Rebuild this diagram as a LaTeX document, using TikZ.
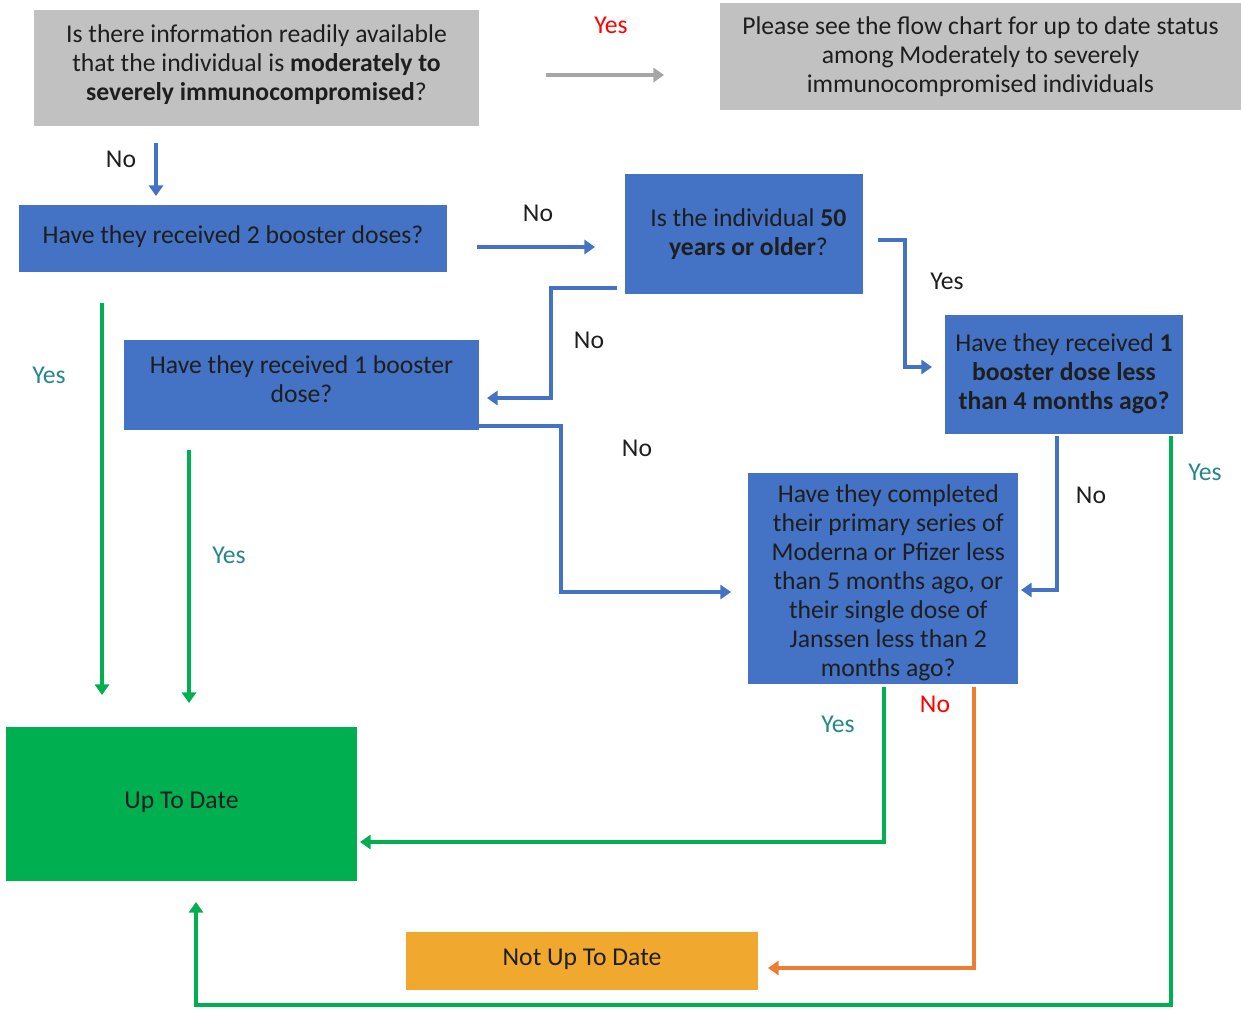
\documentclass[tikz,border=0pt]{standalone}
\usepackage{fontspec}
\setmainfont{Carlito}
\usetikzlibrary{arrows.meta}
\definecolor{txt}{RGB}{30,30,30}
\definecolor{grayfill}{RGB}{194,193,194}
\definecolor{grayline}{RGB}{166,166,166}
\definecolor{myblue}{RGB}{68,114,196}
\definecolor{mygreen}{RGB}{0,176,80}
\definecolor{orfill}{RGB}{240,168,46}
\definecolor{orline}{RGB}{237,125,49}
\definecolor{teal}{RGB}{35,135,140}
\definecolor{myred}{RGB}{255,0,0}
% text block: raise by #1, left padding #2, lines #3
\newcommand\boxtext[3]{\raisebox{#1}[\height][\depth]{\begin{tabular}{@{\hspace{#2}}c@{}}#3\end{tabular}}}
\begin{document}
\begin{tikzpicture}[x=0.02cm,y=-0.02cm,
  font=\fontsize{14.6}{16.5}\selectfont,
  box/.style={draw=none, inner sep=0pt, text=txt},
  graybox/.style={box, fill=grayfill},
  bluebox/.style={box, fill=myblue},
  lbl/.style={inner sep=0pt, text=txt},
  arr/.style={line width=1.8pt, -{Triangle[length=6pt,width=8pt]}},
  barr/.style={arr, draw=myblue},
  garr/.style={arr, draw=mygreen},
  oarr/.style={arr, draw=orline},
  grarr/.style={arr, draw=grayline}]
\useasboundingbox (0,0) rectangle (1241,1009);

% boxes
\node[graybox, minimum width=8.9cm, minimum height=2.32cm] (q0) at (256.5,68)
  {\boxtext{1.2pt}{0pt}{Is there information readily available\\that the individual is \textbf{moderately to}\\\textbf{severely immunocompromised}?}};
\node[graybox, minimum width=10.42cm, minimum height=2.14cm] (info) at (980.5,56.5)
  {\boxtext{-0.7pt}{0pt}{Please see the flow chart for up to date status\\among Moderately to severely\\immunocompromised individuals}};
\node[bluebox, minimum width=8.56cm, minimum height=1.34cm] (q2b) at (233,238.5)
  {\boxtext{0.4pt}{0pt}{Have they received 2 booster doses?}};
\node[bluebox, minimum width=4.76cm, minimum height=2.4cm] (q50) at (744,234)
  {\boxtext{-0.7pt}{5pt}{Is the individual \textbf{50}\\\textbf{years or older}?}};
\node[bluebox, minimum width=7.1cm, minimum height=1.8cm] (q1b) at (301.5,385)
  {\boxtext{1.5pt}{0pt}{Have they received 1 booster\\dose?}};
\node[bluebox, minimum width=4.76cm, minimum height=2.38cm] (q4m) at (1064,374.5)
  {\boxtext{-0.2pt}{0pt}{Have they received \textbf{1}\\\textbf{booster dose less}\\\textbf{than 4 months ago?}}};
\node[bluebox, minimum width=5.4cm, minimum height=4.22cm] (qps) at (883,578.5)
  {\boxtext{-3pt}{6pt}{Have they completed\\their primary series of\\Moderna or Pfizer less\\than 5 months ago, or\\their single dose of\\Janssen less than 2\\months ago?}};
\node[box, fill=mygreen, minimum width=7.02cm, minimum height=3.08cm] (utd) at (181.5,804)
  {\boxtext{0.7pt}{0pt}{Up To Date}};
\node[box, fill=orfill, minimum width=7.04cm, minimum height=1.16cm] (nutd) at (582,961)
  {\boxtext{0.7pt}{0pt}{Not Up To Date}};

% connector end points
\coordinate (c1a) at (546,75);   \coordinate (c1b) at (664,75);
\coordinate (c2a) at (156,143);  \coordinate (c2b) at (156,196);
\coordinate (c3a) at (477,247);  \coordinate (c3b) at (595,247);
\coordinate (c4a) at (617,288);  \coordinate (c4b) at (487,398);
\coordinate (c5a) at (479,426);  \coordinate (c5b) at (731,592);
\coordinate (c6a) at (878,240);  \coordinate (c6b) at (932,367);
\coordinate (c7a) at (1057,436); \coordinate (c7b) at (1021,590);
\coordinate (c8a) at (1171,436); \coordinate (c8b) at (196,902);
\coordinate (c9a) at (884,687);  \coordinate (c9b) at (360,842);
\coordinate (c10a) at (974,687); \coordinate (c10b) at (768,968);
\coordinate (c11a) at (102,303); \coordinate (c11b) at (102,695);
\coordinate (c12a) at (189,450); \coordinate (c12b) at (189,703);

% connectors
\draw[grarr] (c1a) -- (c1b);
\draw[barr] (c2a) -- (c2b);
\draw[barr] (c3a) -- (c3b);
\draw[barr] (c4a) -- (551,288) -- (551,398) -- (c4b);
\draw[barr] (c5a) -- (561,426) -- (561,592) -- (c5b);
\draw[barr] (c6a) -- (905,240) -- (905,367) -- (c6b);
\draw[barr] (c7a) -- (1057,590) -- (c7b);
\draw[garr] (c8a) -- (1171,1005) -- (196,1005) -- (c8b);
\draw[garr] (c9a) -- (884,842) -- (c9b);
\draw[oarr] (c10a) -- (974,968) -- (c10b);
\draw[garr] (c11a) -- (c11b);
\draw[garr] (c12a) -- (c12b);

% labels
\node[lbl, text=myred] (l1) at (611,25) {Yes};
\node[lbl] (l2) at (121,159) {No};
\node[lbl] (l3) at (538,213) {No};
\node[lbl] (l4) at (589,340) {No};
\node[lbl] (l5) at (637,448) {No};
\node[lbl] (l6) at (947,281) {Yes};
\node[lbl] (l7) at (1091,495) {No};
\node[lbl, text=teal] (l8) at (1205,472) {Yes};
\node[lbl, text=teal] (l9) at (838,724) {Yes};
\node[lbl, text=myred] (l10) at (935,704) {No};
\node[lbl, text=teal] (l11) at (49,375) {Yes};
\node[lbl, text=teal] (l12) at (229,555) {Yes};
\end{tikzpicture}
\end{document}
